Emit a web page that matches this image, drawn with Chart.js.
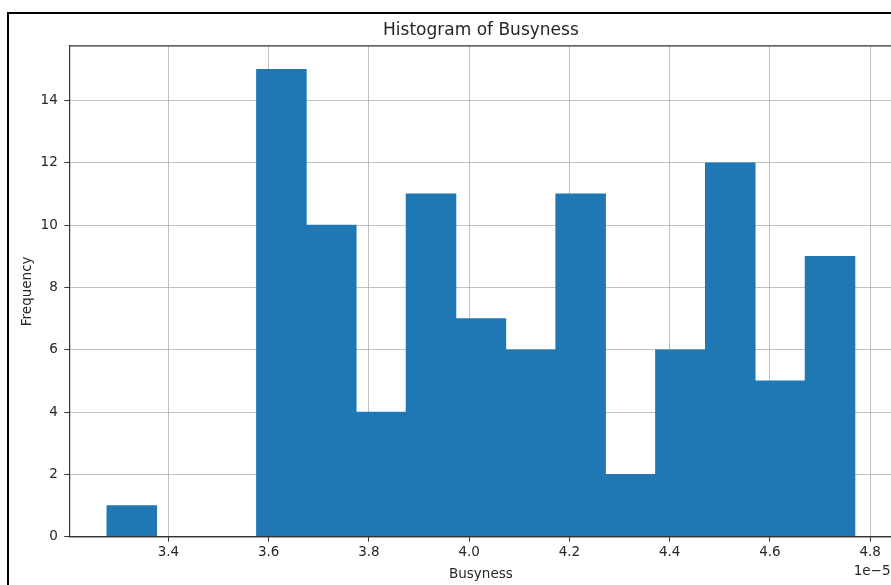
<!DOCTYPE html>
<html>
<head>
<meta charset="utf-8">
<script src="https://cdn.jsdelivr.net/npm/chart.js@4/dist/chart.umd.min.js"></script>
<style>
  html, body { margin: 0; padding: 0; background: #fff; overflow: hidden; width: 891px; height: 585px; }
  #wrap { position: absolute; left: 0; top: 0; width: 900px; height: 585px; }
  #frame { position: absolute; left: 7px; top: 12px; width: 900px; height: 600px;
           border-left: 2px solid #000; border-top: 2px solid #000; pointer-events: none; }
</style>
</head>
<body>
<div id="wrap"><canvas id="c" width="900" height="585"></canvas></div>
<div id="frame"></div>
<script>
// Histogram data (Busyness values in units of 1e-5)
const binEdges = [3.277, 3.377, 3.476, 3.576, 3.675, 3.775, 3.874, 3.974, 4.073,
                  4.173, 4.272, 4.372, 4.471, 4.571, 4.670, 4.770];
const counts = [1, 0, 0, 15, 10, 4, 11, 7, 6, 11, 2, 6, 12, 5, 9];
const xTicks = [3.4, 3.6, 3.8, 4.0, 4.2, 4.4, 4.6, 4.8];
const yTicks = [0, 2, 4, 6, 8, 10, 12, 14];
const titleText = 'Histogram of Busyness';
const xLabel = 'Busyness';
const yLabel = 'Frequency';
const offsetLabel = '1e\u22125';

const FONT = '"DejaVu Sans", sans-serif';
const TXT = '#262626';
const GRID = 'rgba(176,176,176,0.8)';

const points = counts.map((c, i) => ({ x: (binEdges[i] + binEdges[i + 1]) / 2, y: c }));
const lo = binEdges[0], hi = binEdges[binEdges.length - 1];
const pad = (hi - lo) * 0.05;
const yMax = Math.max(...counts) * 1.05;

const extras = {
  id: 'extras',
  afterDraw(chart) {
    const { ctx, chartArea: a } = chart;
    ctx.save();
    ctx.strokeStyle = '#333';
    ctx.lineWidth = 1.2;
    ctx.beginPath();
    ctx.moveTo(a.left, a.top); ctx.lineTo(a.right, a.top);
    ctx.moveTo(a.right, a.top); ctx.lineTo(a.right, a.bottom);
    ctx.moveTo(a.left, a.bottom); ctx.lineTo(a.right, a.bottom);
    ctx.stroke();
    ctx.font = '13.5px ' + FONT;
    ctx.fillStyle = TXT;
    ctx.textAlign = 'right';
    ctx.textBaseline = 'middle';
    ctx.fillText(offsetLabel, a.right - 2, 571);
    ctx.restore();
  }
};

new Chart(document.getElementById('c'), {
  type: 'bar',
  data: {
    datasets: [{
      data: points,
      backgroundColor: '#1f77b4',
      borderWidth: 0,
      barPercentage: 1,
      categoryPercentage: 1
    }]
  },
  options: {
    responsive: false,
    animation: false,
    layout: { padding: { left: 0, right: 7.5, top: 0, bottom: 0 } },
    plugins: {
      legend: { display: false },
      tooltip: { enabled: false },
      title: {
        display: true,
        text: titleText,
        fullSize: false,
        color: TXT,
        font: { family: FONT, size: 17, weight: 'normal' },
        padding: { top: 20.5, bottom: 5 }
      }
    },
    scales: {
      x: {
        type: 'linear',
        offset: false,
        min: lo - pad,
        max: hi + pad,
        z: 1,
        afterBuildTicks: s => { s.ticks = xTicks.map(v => ({ value: v })); },
        afterFit: s => { s.height = 48.3; },
        ticks: {
          color: TXT, padding: 3, maxRotation: 0, autoSkip: false,
          font: { family: FONT, size: 13.5 },
          callback: v => Number(v).toFixed(1)
        },
        grid: { offset: false, color: GRID, lineWidth: 1, tickLength: 5, tickColor: '#333' },
        border: { display: true, color: '#333', width: 1.2 },
        title: {
          display: true, text: xLabel, color: TXT,
          font: { family: FONT, size: 13.5 },
          padding: { top: 0, bottom: 2.9 }
        }
      },
      y: {
        min: 0,
        max: yMax,
        z: 1,
        afterBuildTicks: s => { s.ticks = yTicks.map(v => ({ value: v })); },
        afterFit: s => { s.width = 69.3; },
        ticks: {
          color: TXT, padding: 6.5,
          font: { family: FONT, size: 13.5 },
          callback: v => String(v)
        },
        grid: {
          color: c => (c.tick && c.tick.value === 0) ? 'rgba(0,0,0,0)' : GRID,
          lineWidth: 1, tickLength: 5, tickColor: '#333'
        },
        border: { display: true, color: '#333', width: 1.2 },
        title: {
          display: true, text: yLabel, color: TXT,
          font: { family: FONT, size: 13.5 },
          padding: { top: 18.9, bottom: 0 }
        }
      }
    }
  },
  plugins: [extras]
});
</script>
</body>
</html>
